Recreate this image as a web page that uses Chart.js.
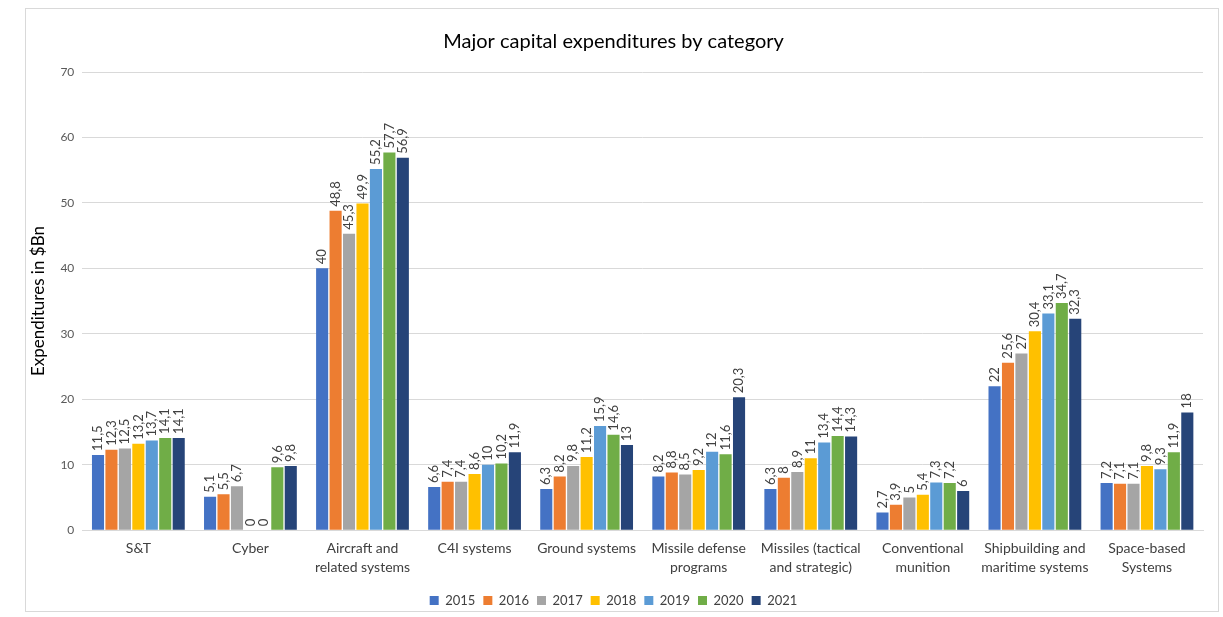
<!DOCTYPE html>
<html>
<head>
<meta charset="utf-8">
<script src="https://cdn.jsdelivr.net/npm/chart.js@4.4.1/dist/chart.umd.min.js"></script>
<style>
html,body{margin:0;padding:0;background:#fff;}
#wrap{position:absolute;left:0;top:0;width:1223px;height:617px;}
</style>
</head>
<body>
<div id="wrap"><canvas id="c" width="1223" height="617"></canvas></div>
<script>
const categories = [
  "S&T",
  "Cyber",
  ["Aircraft and", "related systems"],
  "C4I systems",
  "Ground systems",
  ["Missile defense", "programs"],
  ["Missiles (tactical", "and strategic)"],
  ["Conventional", "munition"],
  ["Shipbuilding and", "maritime systems"],
  ["Space-based", "Systems"]
];
const years = ["2015","2016","2017","2018","2019","2020","2021"];
const v2015 = [11.5, 5.1, 40.0, 6.6, 6.3, 8.2, 6.3, 2.7, 22.0, 7.2];
const v2016 = [12.3, 5.5, 48.8, 7.4, 8.2, 8.8, 8.0, 3.9, 25.6, 7.1];
const v2017 = [12.5, 6.7, 45.3, 7.4, 9.8, 8.5, 8.9, 5.0, 27.0, 7.1];
const v2018 = [13.2, 0, 49.9, 8.6, 11.2, 9.2, 11.0, 5.4, 30.4, 9.8];
const v2019 = [13.7, 0, 55.2, 10.0, 15.9, 12.0, 13.4, 7.3, 33.1, 9.3];
const v2020 = [14.1, 9.6, 57.7, 10.2, 14.6, 11.6, 14.4, 7.2, 34.7, 11.9];
const v2021 = [14.1, 9.8, 56.9, 11.9, 13.0, 20.3, 14.3, 6.0, 32.3, 18.0];
const yTicks = [0,10,20,30,40,50,60,70];
const colors = ["#4472C4","#ED7D31","#A5A5A5","#FFC000","#5B9BD5","#70AD47","#264478"];
const series = [v2015,v2016,v2017,v2018,v2019,v2020,v2021];

const FONT = "Lato, 'Open Sans', sans-serif";

const labelPlugin = {
  id: 'barLabels',
  afterDatasetsDraw(chart) {
    const ctx = chart.ctx;
    ctx.save();
    ctx.font = "13px " + FONT;
    ctx.fillStyle = "#404040";
    ctx.textAlign = "left";
    ctx.textBaseline = "middle";
    chart.data.datasets.forEach((ds, di) => {
      const meta = chart.getDatasetMeta(di);
      meta.data.forEach((bar, i) => {
        const val = ds.data[i];
        const txt = String(val).replace('.', ',');
        ctx.save();
        ctx.translate(bar.x, bar.y - 4);
        ctx.rotate(-Math.PI/2);
        ctx.fillText(txt, 0, 0);
        ctx.restore();
      });
    });
    ctx.restore();
  }
};
const framePlugin = {
  id: 'frame',
  beforeDraw(chart) {
    const ctx = chart.ctx;
    ctx.save();
    ctx.fillStyle = "#fff";
    ctx.fillRect(0,0,chart.width,chart.height);
    ctx.strokeStyle = "#d9d9d9";
    ctx.lineWidth = 1;
    ctx.strokeRect(25.5, 8.5, 1193, 603);
    ctx.restore();
  }
};

new Chart(document.getElementById('c'), {
  type: 'bar',
  data: {
    labels: categories,
    datasets: years.map((y, i) => ({
      label: y,
      data: series[i],
      backgroundColor: colors[i],
      borderWidth: 0,
      categoryPercentage: 0.84,
      barPercentage: 0.9
    }))
  },
  options: {
    responsive: false,
    animation: false,
    layout: { padding: { left: 24, right: 20, top: 26, bottom: 0 } },
    plugins: {
      title: {
        display: true,
        text: "Major capital expenditures by category",
        color: "#000",
        font: { family: FONT, size: 20, weight: 'normal' },
        padding: { top: 4, bottom: 18 }
      },
      legend: {
        position: 'bottom',
        labels: {
          color: "#404040",
          font: { family: FONT, size: 13 },
          boxWidth: 9, boxHeight: 9,
          padding: 8
        }
      },
      tooltip: { enabled: false }
    },
    scales: {
      x: {
        grid: { display: false, drawTicks: false },
        border: { color: "#d9d9d9" },
        ticks: { color: "#404040", font: { family: FONT, size: 14, lineHeight: 1.35 }, maxRotation: 0, autoSkip: false, padding: 9 }
      },
      y: {
        min: 0, max: 70,
        afterBuildTicks(axis) { axis.ticks = yTicks.map(v => ({ value: v })); },
        grid: { color: "#d9d9d9", drawTicks: false },
        border: { display: false },
        ticks: { color: "#595959", font: { family: FONT, size: 12 }, padding: 8 },
        title: { display: true, text: "Expenditures in $Bn", color: "#000", font: { family: FONT, size: 17 }, padding: { bottom: 4 } }
      }
    }
  },
  plugins: [framePlugin, labelPlugin]
});
</script>
</body>
</html>
